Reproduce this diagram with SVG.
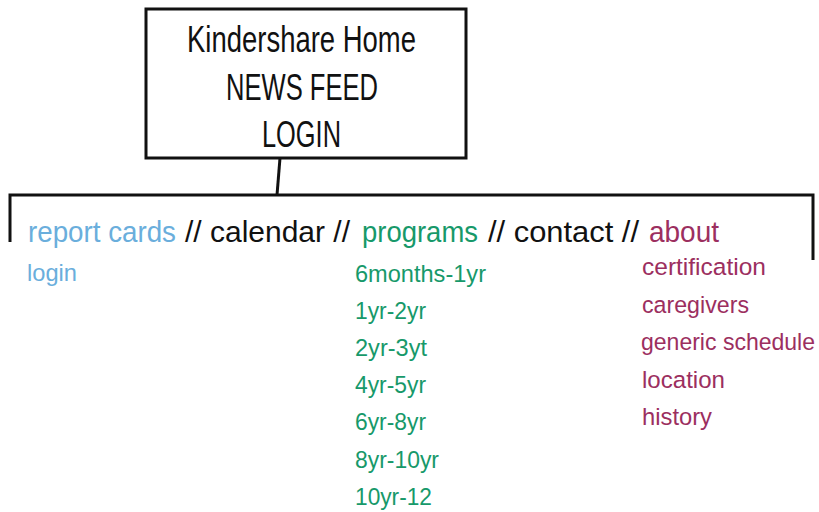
<svg xmlns="http://www.w3.org/2000/svg" width="819" height="512" viewBox="0 0 819 512">
<style>
text{font-family:"Liberation Sans",Arial,sans-serif}
.hd{font-size:36px;fill:#111}
.nav{font-size:29.5px}
.sub{font-size:24.5px}
.blue{fill:#6aaedc}
.green{fill:#17996a}
.maroon{fill:#9c2f5f}
.blk{fill:#111}
.ln{stroke:#111;stroke-width:3;fill:none}
</style>
<rect width="819" height="512" fill="#fff"/>
<g id="connectors">
<path class="ln" d="M280 158 L277 195"/>
<path class="ln" d="M10 242 V195 H813 V260"/>
</g>
<g id="home">
<rect x="146" y="9" width="320" height="149" class="ln"/>
<text class="hd" x="187" y="52" textLength="229" lengthAdjust="spacingAndGlyphs">Kindershare Home</text>
<text class="hd" x="226" y="99.5" textLength="152" lengthAdjust="spacingAndGlyphs">NEWS FEED</text>
<text class="hd" x="262" y="147" textLength="79" lengthAdjust="spacingAndGlyphs">LOGIN</text>
</g>
<g id="nav">
<text class="nav blue" x="28" y="242" textLength="148" lengthAdjust="spacingAndGlyphs">report cards</text>
<text class="nav blk" x="185" y="242" textLength="165" lengthAdjust="spacingAndGlyphs">// calendar //</text>
<text class="nav green" x="362" y="242" textLength="116" lengthAdjust="spacingAndGlyphs">programs</text>
<text class="nav blk" x="488" y="242" textLength="151" lengthAdjust="spacingAndGlyphs">// contact //</text>
<text class="nav maroon" x="649" y="242" textLength="70" lengthAdjust="spacingAndGlyphs">about</text>
</g>
<g id="report-cards">
<text class="sub blue" x="27" y="281" textLength="50" lengthAdjust="spacingAndGlyphs">login</text>
</g>
<g id="programs">
<text class="sub green" x="355" y="282" textLength="131" lengthAdjust="spacingAndGlyphs">6months-1yr</text>
<text class="sub green" x="355" y="319" textLength="71" lengthAdjust="spacingAndGlyphs">1yr-2yr</text>
<text class="sub green" x="355" y="356" textLength="72" lengthAdjust="spacingAndGlyphs">2yr-3yt</text>
<text class="sub green" x="355" y="393" textLength="71" lengthAdjust="spacingAndGlyphs">4yr-5yr</text>
<text class="sub green" x="355" y="430" textLength="71" lengthAdjust="spacingAndGlyphs">6yr-8yr</text>
<text class="sub green" x="355" y="468" textLength="84" lengthAdjust="spacingAndGlyphs">8yr-10yr</text>
<text class="sub green" x="355" y="505" textLength="77" lengthAdjust="spacingAndGlyphs">10yr-12</text>
</g>
<g id="about">
<text class="sub maroon" x="642" y="275" textLength="124" lengthAdjust="spacingAndGlyphs">certification</text>
<text class="sub maroon" x="642" y="313" textLength="107" lengthAdjust="spacingAndGlyphs">caregivers</text>
<text class="sub maroon" x="641" y="350" textLength="174" lengthAdjust="spacingAndGlyphs">generic schedule</text>
<text class="sub maroon" x="642" y="388" textLength="83" lengthAdjust="spacingAndGlyphs">location</text>
<text class="sub maroon" x="642" y="425" textLength="70" lengthAdjust="spacingAndGlyphs">history</text>
</g>
</svg>
